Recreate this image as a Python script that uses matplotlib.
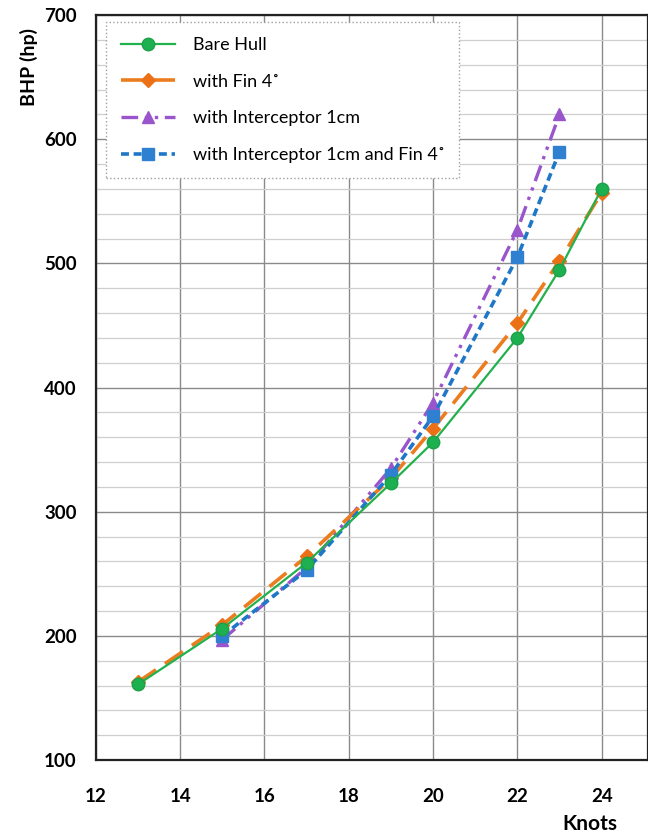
import matplotlib
matplotlib.use("Agg")
import numpy as np
from matplotlib import pyplot as plt
from matplotlib.ticker import MultipleLocator

# data
knots_bare = [13, 15, 17, 19, 20, 22, 23, 24]
bhp_bare = [161, 206, 259, 323, 356, 440, 495, 560]

knots_fin = [13, 15, 17, 19, 20, 22, 23, 24]
bhp_fin = [163, 209, 264, 327, 367, 452, 502, 557]

knots_int = [15, 17, 19, 20, 22, 23]
bhp_int = [197, 255, 335, 388, 527, 620]

knots_int_fin = [15, 17, 19, 20, 22, 23]
bhp_int_fin = [200, 253, 330, 377, 505, 590]

labels = ["Bare Hull", "with Fin 4\u02da", "with Interceptor 1cm",
          "with Interceptor 1cm and Fin 4\u02da"]

plt.rcParams['font.family'] = ['Lato', 'DejaVu Sans']

fig = plt.figure(figsize=(6.48, 8.39), dpi=100)
ax = fig.add_axes([0.148, 0.094, 0.852, 0.888])

ax.plot(knots_bare, bhp_bare, color="#22B14C", lw=1.6, ls="-",
        marker="o", ms=9, mfc="#1DB050", mec="#1DA048", label=labels[0], zorder=5)
ax.plot(knots_fin, bhp_fin, color="#EC7C1E", lw=2.6, ls=(0, (6, 3)),
        marker="D", ms=7.5, mfc="#EC7016", mec="#EC7016", label=labels[1], zorder=4)
ax.plot(knots_int, bhp_int, color="#9A55CC", lw=2.4, ls=(0, (5, 2, 1, 2, 1, 2)),
        marker="^", ms=9, mfc="#9A55CC", mec="#9A55CC", label=labels[2], zorder=3)
ax.plot(knots_int_fin, bhp_int_fin, color="#1F77C8", lw=2.6, ls=(0, (2.2, 1.3)),
        marker="s", ms=8, mfc="#2F80D0", mec="#2F80D0", label=labels[3], zorder=4)

ax.set_xlim(12, 25.1)
ax.set_ylim(100, 700)
ax.xaxis.set_major_locator(MultipleLocator(2))
ax.yaxis.set_major_locator(MultipleLocator(100))
ax.yaxis.set_minor_locator(MultipleLocator(20))
ax.grid(which="major", color="#8a8a8a", lw=1.0)
ax.grid(which="minor", axis="y", color="#cfcfcf", lw=0.9)
ax.set_axisbelow(True)

ax.tick_params(which="both", length=0)
ax.tick_params(axis="x", pad=20, labelsize=13.5)
ax.tick_params(axis="y", pad=14, labelsize=13.5)
for t in ax.get_xticklabels() + ax.get_yticklabels():
    t.set_fontweight("bold")

for s in ax.spines.values():
    s.set_color("#222222")
    s.set_linewidth(1.6)

fig.text(0.045, 0.92, "BHP (hp)", rotation=90, fontsize=14, fontweight="bold",
         ha="center", va="center")
fig.text(0.91, 0.018, "Knots", fontsize=15, fontweight="bold", ha="center", va="center")

leg = ax.legend(loc="upper left", bbox_to_anchor=(0.012, 0.995), borderaxespad=0.2,
                fontsize=13, handlelength=3.0, handletextpad=1.0, labelspacing=1.15,
                borderpad=0.8, fancybox=False, framealpha=1, edgecolor="#a0a0a0")
leg.get_frame().set_linestyle(":")
leg.get_frame().set_linewidth(1.0)

plt.savefig("out.png", dpi=100)
